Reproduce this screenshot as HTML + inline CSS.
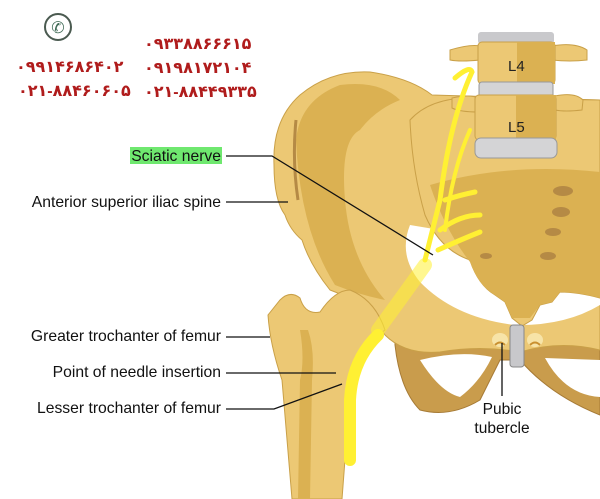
<!DOCTYPE html>
<html><head><meta charset="utf-8"><style>
body{margin:0;width:600px;height:499px;overflow:hidden;background:#fff}
svg{display:block}
text{font-family:"Liberation Sans",sans-serif}
.p{font-family:"Liberation Sans","DejaVu Sans",sans-serif;fill:#b01c1c;font-size:16px;font-weight:bold}
</style></head><body>
<svg width="600" height="499" viewBox="0 0 600 499">
<circle cx="58" cy="27" r="13" fill="none" stroke="#4a5a50" stroke-width="2"/>
<text x="58" y="33" font-size="16" text-anchor="middle" fill="#3f6a55">✆</text>
<text class="p" x="16" y="72">۰۹۹۱۴۶۸۶۴۰۲</text>
<text class="p" x="18" y="96">۰۲۱-۸۸۴۶۰۶۰۵</text>
<text class="p" x="144" y="49">۰۹۳۳۸۸۶۶۶۱۵</text>
<text class="p" x="144" y="73">۰۹۱۹۸۱۷۲۱۰۴</text>
<text class="p" x="144" y="97">۰۲۱-۸۸۴۴۹۳۳۵</text>

<path d="M395,345 Q400,390 420,410 Q450,418 480,400 L500,360 L520,360 Q550,395 600,415 L600,340 L395,340 Z" fill="#c99c4c" stroke="#a67a35"/>
<path d="M420,360 Q440,392 460,397 Q480,382 492,357 Q460,350 420,360 Z M545,358 Q565,395 600,397 L600,360 Z" fill="#fff"/>
<path d="M274,165 Q272,120 300,95 Q330,70 370,72 Q410,78 432,95 L600,100 L600,350 Q560,340 520,352 Q480,345 440,352 Q405,355 385,335 Q360,300 330,290 Q310,265 302,240 Q290,230 285,215 Q274,200 274,165 Z" fill="#ecc874" stroke="#c9a048"/>
<path d="M296,140 Q300,100 340,85 Q380,80 400,100 Q375,110 360,130 Q340,140 345,200 Q350,260 385,300 Q360,295 335,285 Q300,230 296,140 Z" fill="#dbb152"/>
<path d="M296,120 Q292,160 298,200" stroke="#b58a45" stroke-width="3" fill="none"/>
<path d="M410,225 Q398,255 420,282 Q455,318 515,325 Q565,326 600,305 L600,250 L440,230 Z" fill="#fff"/>
<path d="M410,120 Q430,98 470,98 L600,100 L600,298 Q578,292 560,292 L552,302 L540,305 L532,320 L522,326 L512,318 L505,302 L495,295 Q478,285 470,260 Q440,250 425,215 Q412,170 410,120 Z" fill="#ecc874" stroke="#c9a048"/>
<path d="M430,185 Q510,162 600,172 L600,298 Q578,292 560,292 L552,302 L540,305 L530,318 L512,318 L505,302 L495,295 Q478,285 470,262 Q445,230 430,185 Z" fill="#dbb152"/>
<g fill="#b58a45"><ellipse cx="563" cy="191" rx="10" ry="5"/><ellipse cx="561" cy="212" rx="9" ry="5"/><ellipse cx="553" cy="232" rx="8" ry="4"/><ellipse cx="548" cy="256" rx="8" ry="4"/><ellipse cx="486" cy="256" rx="6" ry="3"/></g>
<rect x="510" y="325" width="14" height="42" rx="3" fill="#c8c8cb" stroke="#888"/>
<ellipse cx="500" cy="340" rx="8" ry="7" fill="#f7e4a8"/><ellipse cx="535" cy="340" rx="8" ry="7" fill="#f7e4a8"/>
<path d="M495,345 q5,-5 10,0 M530,345 q5,-5 10,0" stroke="#c99030" stroke-width="2" fill="none"/>
<rect x="478" y="32" width="76" height="12" rx="3" fill="#c9c9cc"/>
<path d="M450,50 Q470,44 480,46 L480,60 Q460,62 450,60 Z M552,46 Q575,42 587,50 L587,60 Q570,62 552,60 Z" fill="#ecc874" stroke="#c9a048"/>
<rect x="478" y="42" width="77" height="42" rx="4" fill="#ecc874" stroke="#c9a048"/>
<rect x="517" y="42" width="38" height="42" fill="#dbb152"/>
<rect x="479" y="82" width="74" height="16" rx="3" fill="#d4d4d6" stroke="#999"/>
<path d="M452,98 Q470,94 478,98 L478,112 Q460,112 452,108 Z M555,96 Q575,92 583,100 L582,110 Q565,112 555,110 Z" fill="#ecc874" stroke="#c9a048"/>
<rect x="475" y="95" width="81" height="45" rx="4" fill="#ecc874" stroke="#c9a048"/>
<rect x="516" y="95" width="40" height="45" fill="#dbb152"/>
<rect x="475" y="138" width="82" height="20" rx="6" fill="#d4d4d6" stroke="#999"/>
<text x="508" y="71" font-size="15" fill="#222">L4</text>
<text x="508" y="132" font-size="15" fill="#222">L5</text>
<path d="M280,300 Q290,290 300,298 Q305,315 320,312 Q335,290 350,290 Q375,300 385,330 L365,345 L355,360 Q345,390 348,420 L342,499 L292,499 Q286,430 282,380 Q270,345 268,315 Z" fill="#ecc874" stroke="#c9a048"/>
<path d="M300,330 Q305,360 300,380 L298,499 L310,499 L312,380 Q315,350 308,330 Z" fill="#dbb152"/>
<g stroke="#fff033" fill="none" stroke-linecap="round">
<path d="M455,78 Q470,65 472,72 Q450,120 440,200 Q430,240 425,260" stroke-width="5"/>
<path d="M470,130 Q452,170 445,230" stroke-width="4"/>
<path d="M445,200 Q460,195 475,192 M440,230 Q460,215 480,215 M438,250 Q460,240 480,232" stroke-width="5"/>
<path d="M425,265 Q400,300 378,330" stroke-width="14" stroke-opacity="0.55"/>
<path d="M378,335 Q352,360 350,400 L350,460" stroke-width="12"/>
</g>
<rect x="130" y="147" width="92" height="17" fill="#6fe86f"/>
<g font-size="15.7" fill="#111" text-anchor="end">
<text x="221" y="161">Sciatic nerve</text>
<text x="221" y="207">Anterior superior iliac spine</text>
<text x="221" y="341">Greater trochanter of femur</text>
<text x="221" y="377">Point of needle insertion</text>
<text x="221" y="413">Lesser trochanter of femur</text>
</g>
<g stroke="#111" stroke-width="1.3" fill="none">
<path d="M226,156 L272,156 L433,255"/>
<path d="M226,202 L288,202"/>
<path d="M226,337 L270,337"/>
<path d="M226,373 L336,373"/>
<path d="M226,409 L274,409 L342,384"/>
<path d="M502,343 L502,396"/>
</g>
<text x="502" y="414" font-size="15.5" text-anchor="middle" fill="#111">Pubic</text>
<text x="502" y="433" font-size="15.5" text-anchor="middle" fill="#111">tubercle</text>
</svg>
</body></html>
